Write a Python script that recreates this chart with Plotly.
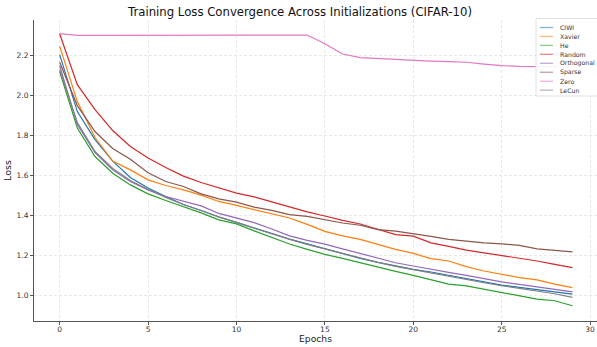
import plotly.graph_objects as go

epochs = list(range(30))

ciwi = [2.205, 1.92, 1.78, 1.672, 1.59, 1.537, 1.495, 1.455, 1.425, 1.392, 1.365, 1.338, 1.308, 1.282, 1.258, 1.233,
        1.207, 1.185, 1.165, 1.147, 1.13, 1.117, 1.1, 1.084, 1.067, 1.051, 1.04, 1.027, 1.017, 1.006]
xavier = [2.248, 1.97, 1.79, 1.672, 1.628, 1.578, 1.55, 1.528, 1.502, 1.47, 1.45, 1.43, 1.41, 1.387, 1.355, 1.32,
          1.298, 1.28, 1.255, 1.23, 1.21, 1.184, 1.172, 1.144, 1.122, 1.105, 1.089, 1.077, 1.056, 1.039]
he = [2.12, 1.838, 1.695, 1.611, 1.553, 1.508, 1.475, 1.445, 1.413, 1.378, 1.358, 1.323, 1.29, 1.257, 1.23, 1.205,
      1.185, 1.163, 1.139, 1.12, 1.1, 1.078, 1.056, 1.047, 1.03, 1.014, 0.997, 0.981, 0.973, 0.948]
random_init = [2.31, 2.055, 1.93, 1.825, 1.745, 1.688, 1.64, 1.597, 1.565, 1.537, 1.512, 1.493, 1.468, 1.445, 1.418, 1.397,
               1.375, 1.357, 1.33, 1.304, 1.296, 1.263, 1.245, 1.226, 1.213, 1.2, 1.186, 1.172, 1.155, 1.139]
orthogonal = [2.15, 1.855, 1.715, 1.628, 1.57, 1.528, 1.495, 1.47, 1.448, 1.41, 1.388, 1.364, 1.332, 1.298, 1.275, 1.256,
              1.233, 1.21, 1.187, 1.163, 1.147, 1.13, 1.115, 1.1, 1.083, 1.067, 1.055, 1.044, 1.03, 1.017]
sparse = [2.167, 1.95, 1.82, 1.735, 1.681, 1.614, 1.57, 1.545, 1.508, 1.483, 1.467, 1.442, 1.425, 1.404, 1.395, 1.379,
          1.362, 1.351, 1.329, 1.321, 1.309, 1.295, 1.28, 1.27, 1.263, 1.258, 1.25, 1.233, 1.225, 1.218]
zero = [2.31, 2.302, 2.302, 2.302, 2.302, 2.302, 2.302, 2.302, 2.302, 2.302, 2.303, 2.303, 2.303, 2.303, 2.303, 2.26,
        2.208, 2.19, 2.185, 2.18, 2.177, 2.173, 2.17, 2.167, 2.158, 2.15, 2.146, 2.144, 2.143, 2.142]
lecun = [2.13, 1.865, 1.72, 1.635, 1.575, 1.53, 1.49, 1.455, 1.425, 1.393, 1.365, 1.337, 1.306, 1.28, 1.255, 1.232,
         1.208, 1.185, 1.165, 1.145, 1.128, 1.113, 1.097, 1.08, 1.063, 1.048, 1.035, 1.022, 1.008, 0.99]

names = ["CIWI", "Xavier", "He", "Random", "Orthogonal", "Sparse", "Zero", "LeCun"]
series = [ciwi, xavier, he, random_init, orthogonal, sparse, zero, lecun]
colors = ["#1f77b4", "#ff7f0e", "#2ca02c", "#d62728", "#9467bd", "#8c564b", "#e377c2", "#7f7f7f"]

xticks = [0, 5, 10, 15, 20, 25, 30]
yticks = [1.0, 1.2, 1.4, 1.6, 1.8, 2.0, 2.2]

W, H = 597, 347
ML, MR, MT, MB = 34, 0, 20, 26
PW, PH = W - ML - MR, H - MT - MB


def px_x(px):  # window pixel -> paper fraction
    return (px - ML) / PW


def px_y(py):
    return (H - MB - py) / PH


fig = go.Figure()
for name, ys, c in zip(names, series, colors):
    fig.add_trace(go.Scatter(x=epochs, y=ys, mode="lines", name=name,
                             line=dict(color=c, width=1.2), showlegend=False))

axis_common = dict(showgrid=True, gridcolor="#e2e2e2", griddash="3px,2px", gridwidth=0.8,
                   zeroline=False, showline=True, linecolor="#555555", linewidth=1,
                   ticks="outside", ticklen=3, tickcolor="#555555", automargin=False,
                   tickfont=dict(size=7.5, color="#333333", family="DejaVu Sans"))

# compact legend (matplotlib style)
shapes = [dict(type="rect", xref="paper", yref="paper",
               x0=px_x(536), x1=px_x(600), y0=px_y(96), y1=px_y(18.5),
               fillcolor="rgba(255,255,255,0.9)", line=dict(color="#d8d8d8", width=0.8), layer="above")]
annotations = []
for i, (name, c) in enumerate(zip(names, colors)):
    yy = 27.5 + i * 8.95
    shapes.append(dict(type="line", xref="paper", yref="paper",
                       x0=px_x(540), x1=px_x(553), y0=px_y(yy), y1=px_y(yy),
                       line=dict(color=c, width=1.3), opacity=0.55, layer="above"))
    annotations.append(dict(x=px_x(558), y=px_y(yy), xref="paper", yref="paper",
                            text=name, showarrow=False, xanchor="left", yanchor="middle",
                            font=dict(size=6.2, color="#333333", family="DejaVu Sans")))

# x-axis title
annotations.append(dict(x=px_x(315), y=px_y(338.5), xref="paper", yref="paper",
                        text="Epochs", showarrow=False, xanchor="center", yanchor="middle",
                        font=dict(size=9.2, color="#222222", family="DejaVu Sans")))

fig.update_layout(
    width=W, height=H,
    margin=dict(l=ML, r=MR, t=MT, b=MB, pad=0),
    paper_bgcolor="white", plot_bgcolor="white",
    font=dict(family="DejaVu Sans", color="#222222"),
    title=dict(text="Training Loss Convergence Across Initializations (CIFAR-10)",
               xref="container", x=300 / W, xanchor="center",
               yref="container", y=1 - 12 / H, yanchor="middle",
               font=dict(size=11.7, color="#111111")),
    xaxis=dict(range=[-1.45, 30.39], tickvals=xticks, ticklabelstandoff=-2, **axis_common),
    yaxis=dict(range=[0.8715, 2.3785], tickvals=yticks, tickformat=".1f",
               title=dict(text="Loss", font=dict(size=9.5), standoff=3), **axis_common),
    shapes=shapes,
    annotations=annotations,
    showlegend=False,
    hovermode=False,
)

fig.write_html("out.html", config={"displayModeBar": False, "staticPlot": True},
               post_script="document.body.style.margin='0';document.body.style.overflow='hidden';")
